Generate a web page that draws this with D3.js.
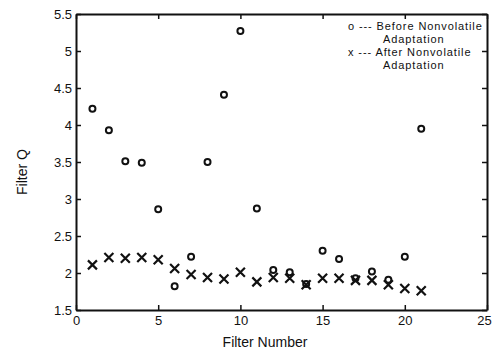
<!DOCTYPE html>
<html>
<head>
<meta charset="utf-8">
<script src="https://cdn.jsdelivr.net/npm/d3@7"></script>
<style>
  body { margin: 0; background: #fff; }
  text { font-family: "Liberation Sans", Arial, sans-serif; fill: #111; }
</style>
</head>
<body>
<div class="chart"></div>
<script>
// filter numbers and Q values
const filters = d3.range(1, 22);
const before = [4.22, 3.93, 3.51, 3.49, 2.86, 1.82, 2.22, 3.50, 4.41, 5.27, 2.87,
                2.04, 2.01, 1.85, 2.30, 2.19, 1.93, 2.02, 1.91, 2.22, 3.95];
const after = [2.11, 2.21, 2.20, 2.21, 2.18, 2.06, 1.98, 1.94, 1.92, 2.01, 1.88,
               1.94, 1.93, 1.84, 1.93, 1.93, 1.90, 1.90, 1.84, 1.79, 1.76];
const xTicks = [0, 5, 10, 15, 20, 25];
const yTicks = [1.5, 2, 2.5, 3, 3.5, 4, 4.5, 5, 5.5];
const legendLines = ['o --- Before Nonvolatile', 'Adaptation', 'x --- After Nonvolatile', 'Adaptation'];

const width = 493, height = 355;
const margin = {left: 76, right: 6, top: 14, bottom: 45};

const svg = d3.select('.chart')
    .append('svg')
    .attr('width', width)
    .attr('height', height);

const x = d3.scaleLinear().domain([0, 25]).range([margin.left, width - margin.right]);
const y = d3.scaleLinear().domain([1.5, 5.5]).range([height - margin.bottom, margin.top]);

const fmt = d => String(d);

// axes with inward ticks on all four sides
const axBottom = svg.append('g')
    .attr('transform', `translate(0,${y(1.5)})`)
    .call(d3.axisBottom(x).tickValues(xTicks).tickFormat(fmt).tickSizeInner(-5).tickSizeOuter(0).tickPadding(4));
const axTop = svg.append('g')
    .attr('transform', `translate(0,${y(5.5)})`)
    .call(d3.axisTop(x).tickValues(xTicks).tickFormat('').tickSizeInner(-5).tickSizeOuter(0));
const axLeft = svg.append('g')
    .attr('transform', `translate(${x(0)},0)`)
    .call(d3.axisLeft(y).tickValues(yTicks).tickFormat(fmt).tickSizeInner(-5).tickSizeOuter(0).tickPadding(4));
const axRight = svg.append('g')
    .attr('transform', `translate(${x(25)},0)`)
    .call(d3.axisRight(y).tickValues(yTicks).tickFormat('').tickSizeInner(-5).tickSizeOuter(0));

[axBottom, axTop, axLeft, axRight].forEach(g => {
    g.select('.domain').attr('stroke', '#111').attr('stroke-width', 2);
    g.selectAll('.tick line').attr('stroke', '#111').attr('stroke-width', 1.5);
    g.selectAll('.tick text').attr('font-size', 13).attr('fill', '#111')
        .attr('font-family', '"Liberation Sans", Arial, sans-serif');
});
axBottom.selectAll('.tick text').attr('dy', '0.85em');
// last label sits on the window edge
axBottom.selectAll('.tick text').filter(d => d === 25).attr('dx', -3);

// before: circles
svg.append('g').selectAll('circle')
    .data(filters)
    .enter()
    .append('circle')
    .attr('cx', (d)=> x(d))
    .attr('cy', (d, i)=> y(before[i]))
    .attr('r', 3)
    .attr('fill', 'none')
    .attr('stroke', '#111')
    .attr('stroke-width', 2);

// after: x marks
const s = 4.5;
svg.append('g').selectAll('path')
    .data(filters)
    .enter()
    .append('path')
    .attr('d', (d, i)=> {
        const cx = x(d), cy = y(after[i]);
        return `M${cx - s},${cy - s}L${cx + s},${cy + s}M${cx - s},${cy + s}L${cx + s},${cy - s}`;
    })
    .attr('stroke', '#111')
    .attr('stroke-width', 2.2)
    .attr('fill', 'none');

// legend
svg.append('g').selectAll('text')
    .data(legendLines)
    .enter()
    .append('text')
    .attr('x', (d, i)=> i % 2 === 0 ? 348 : 383)
    .attr('y', (d, i)=> 30 + i * 13)
    .attr('font-size', 11)
    .attr('letter-spacing', 0.9)
    .text(d => d);

// axis titles
svg.append('text')
    .attr('x', 265)
    .attr('y', 347)
    .attr('text-anchor', 'middle')
    .attr('font-size', 14)
    .text('Filter Number');

svg.append('text')
    .attr('transform', 'translate(27,172) rotate(-90)')
    .attr('text-anchor', 'middle')
    .attr('font-size', 14)
    .text('Filter Q');
</script>
</body>
</html>
